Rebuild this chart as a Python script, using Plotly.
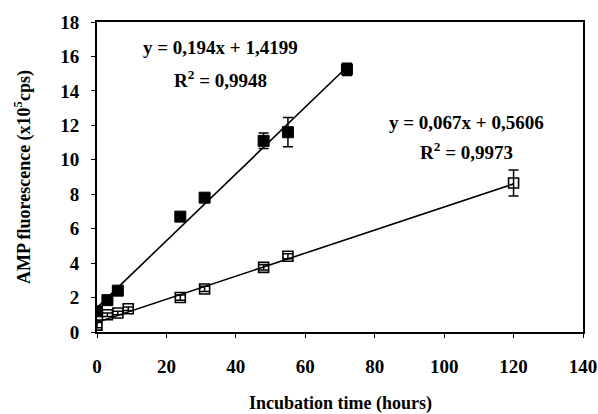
import plotly.graph_objects as go

# Data
filled_x = [0, 3, 6, 24, 31, 48, 55, 72]
filled_y = [1.2, 1.85, 2.4, 6.7, 7.8, 11.1, 11.6, 15.25]
filled_err = [0.1, 0.1, 0.1, 0.15, 0.15, 0.45, 0.85, 0.35]

open_x = [0, 3, 6, 9, 24, 31, 48, 55, 120]
open_y = [0.4, 1.0, 1.1, 1.35, 2.0, 2.5, 3.75, 4.4, 8.65]
open_err = [0.15, 0.1, 0.1, 0.1, 0.15, 0.15, 0.15, 0.15, 0.75]

fit_filled = (0.194, 1.4199, "y = 0,194x + 1,4199", "R<sup>2</sup> = 0,9948")
fit_open = (0.067, 0.5606, "y = 0,067x + 0,5606", "R<sup>2</sup> = 0,9973")

x_ticks = [0, 20, 40, 60, 80, 100, 120, 140]
y_ticks = [0, 2, 4, 6, 8, 10, 12, 14, 16, 18]

x_title = "<b>Incubation time (hours)</b>"
y_title = "<b>AMP fluorescence (x10<sup>5</sup>cps)</b>"

FONT = "Liberation Serif"

fig = go.Figure()

# trend lines
fx = [min(filled_x), max(filled_x)]
fig.add_trace(go.Scatter(x=fx, y=[fit_filled[0] * v + fit_filled[1] for v in fx],
                         mode="lines", line=dict(color="black", width=1.6),
                         hoverinfo="skip", showlegend=False))
ox = [min(open_x), max(open_x)]
fig.add_trace(go.Scatter(x=ox, y=[fit_open[0] * v + fit_open[1] for v in ox],
                         mode="lines", line=dict(color="black", width=1.6),
                         hoverinfo="skip", showlegend=False))

fig.add_trace(go.Scatter(x=open_x, y=open_y, mode="markers",
                         marker=dict(symbol="square-open", size=10, color="black",
                                     line=dict(color="black", width=1.6)),
                         error_y=dict(type="data", array=open_err, color="black",
                                      thickness=1.5, width=5),
                         showlegend=False))
fig.add_trace(go.Scatter(x=filled_x, y=filled_y, mode="markers",
                         marker=dict(symbol="square", size=11, color="black",
                                     line=dict(color="black", width=1)),
                         error_y=dict(type="data", array=filled_err, color="black",
                                      thickness=1.5, width=5),
                         showlegend=False))

ann_font = dict(family=FONT, size=19, color="black")
fig.add_annotation(x=35.5, y=16.5, text="<b>" + fit_filled[2] + "</b>", showarrow=False, font=ann_font)
fig.add_annotation(x=35.5, y=14.7, text="<b>" + fit_filled[3] + "</b>", showarrow=False, font=ann_font)
fig.add_annotation(x=106.5, y=12.15, text="<b>" + fit_open[2] + "</b>", showarrow=False, font=ann_font)
fig.add_annotation(x=106.5, y=10.5, text="<b>" + fit_open[3] + "</b>", showarrow=False, font=ann_font)

# axis titles
fig.add_annotation(x=0.5, y=0, xref="paper", yref="paper", yanchor="middle", yshift=-71,
                   text=x_title, showarrow=False, font=dict(family=FONT, size=18, color="black"))
fig.add_annotation(x=0, y=0.5, xref="paper", yref="paper", xanchor="center", xshift=-74,
                   textangle=-90, text=y_title, showarrow=False,
                   font=dict(family=FONT, size=18, color="black"))

axis_common = dict(showgrid=False, zeroline=False, showline=True, linecolor="black",
                   linewidth=2, mirror=True, ticks="outside", ticklen=4,
                   tickcolor="black", tickwidth=1, automargin=False)

fig.update_xaxes(range=[0, 140], tickvals=x_ticks, ticktext=[f"<b>{v}</b>" for v in x_ticks],
                 tickfont=dict(family=FONT, size=19, color="black"), ticklabelstandoff=12,
                 **axis_common)
fig.update_yaxes(range=[0, 18], tickvals=y_ticks, ticktext=[f"<b>{v}</b>" for v in y_ticks],
                 tickfont=dict(family=FONT, size=19, color="black"), ticklabelstandoff=8,
                 **axis_common)

fig.update_layout(width=598, height=414, margin=dict(l=97, r=15, t=22, b=82),
                  plot_bgcolor="white", paper_bgcolor="white")

fig.write_html("out.html")
